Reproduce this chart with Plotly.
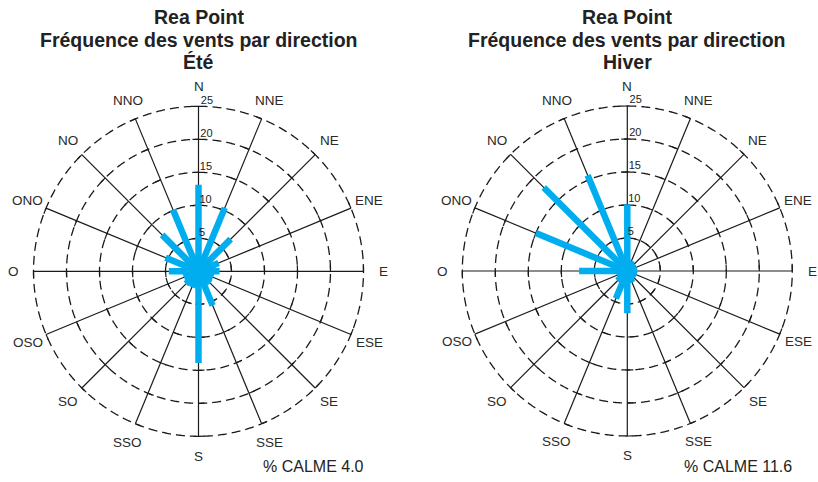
import numpy as np
import plotly.graph_objects as go

# Wind-rose data: frequency (%) per compass direction
DIRECTIONS = ["N", "NNE", "NE", "ENE", "E", "ESE", "SE", "SSE",
              "S", "SSO", "SO", "OSO", "O", "ONO", "NO", "NNO"]
ETE = [13.1, 10.4, 6.9, 3.3, 3.2, 2.4, 2.5, 5.6,
       13.9, 2.6, 2.7, 2.4, 4.5, 5.4, 7.8, 10.1]
HIVER = [10.1, 1.7, 1.5, 1.5, 1.4, 1.5, 1.5, 1.9,
         6.4, 4.5, 2.1, 1.7, 7.3, 15.0, 17.9, 15.7]
CALME = [4.0, 11.6]
SAISONS = ["Été", "Hiver"]
STATION = "Rea Point"
SOUS_TITRE = "Fréquence des vents par direction"
RINGS = [5, 10, 15, 20, 25]

W, H = 818, 482
R_PX = 165.0            # pixel radius of the 25 % ring
R_MAX = 25.6            # radial range a little past the outer ring so it is not clipped
LABEL_R = 28.0          # direction labels sit just outside the outer ring
CENTERS = [(198.5, 271.3), (627.3, 271.0)]
TITLE_ROWS_Y = [17, 40, 62]
BAR_COLOR = "#00AEEF"
LINE_COLOR = "#1a1a1a"
FONT = "Liberation Sans, Arial, sans-serif"

angles = [i * 22.5 for i in range(len(DIRECTIONS))]
px_per_unit = R_PX / RINGS[-1]

fig = go.Figure()


def add_rose(values, polar_id):
    sub = "polar" if polar_id == 1 else f"polar{polar_id}"

    # dashed rings
    th = np.linspace(0, 360, 721)
    for rv in RINGS:
        fig.add_trace(go.Scatterpolar(
            r=[rv] * len(th), theta=th, mode="lines", subplot=sub,
            line=dict(color=LINE_COLOR, width=1.3, dash="9px,5px"),
            hoverinfo="skip"))

    # spokes from centre to the outer ring
    sr, st = [], []
    for a in angles:
        sr += [0, RINGS[-1], None]
        st += [a, a, None]
    fig.add_trace(go.Scatterpolar(
        r=sr, theta=st, mode="lines", subplot=sub,
        line=dict(color=LINE_COLOR, width=1.2), hoverinfo="skip"))

    # small tick marks where each spoke crosses a ring
    tick_px = 6.0
    tr, tt = [], []
    for a in angles:
        for rv in RINGS:
            d = np.degrees(tick_px / (rv * px_per_unit))
            tr += [rv, rv, None]
            tt += [a, a - d, None]
    fig.add_trace(go.Scatterpolar(
        r=tr, theta=tt, mode="lines", subplot=sub,
        line=dict(color=LINE_COLOR, width=1.2), hoverinfo="skip"))

    # frequency bars
    br, bt = [], []
    for a, v in zip(angles, values):
        br += [0, v, None]
        bt += [a, a, None]
    fig.add_trace(go.Scatterpolar(
        r=br, theta=bt, mode="lines", subplot=sub,
        line=dict(color=BAR_COLOR, width=6.5), hoverinfo="skip"))

    # ring value labels along the north spoke
    fig.add_trace(go.Scatterpolar(
        r=RINGS, theta=[0.8] * len(RINGS), mode="text", subplot=sub,
        text=[str(v) for v in RINGS], textposition="top right",
        textfont=dict(family=FONT, size=11, color="#222222"),
        cliponaxis=False, hoverinfo="skip"))


add_rose(ETE, 1)
add_rose(HIVER, 2)


def polar_layout(cx, cy):
    rd = R_MAX * px_per_unit
    x0, x1 = (cx - rd) / W, (cx + rd) / W
    y0, y1 = (H - (cy + rd)) / H, (H - (cy - rd)) / H
    return dict(
        domain=dict(x=[max(x0, 0), min(x1, 1)], y=[y0, y1]),
        bgcolor="rgba(0,0,0,0)",
        radialaxis=dict(range=[0, R_MAX], visible=False),
        angularaxis=dict(direction="clockwise", rotation=90, visible=False),
    )


annotations = []
for (cx, cy), saison, calme in zip(CENTERS, SAISONS, CALME):
    # three-line bold title, one row per annotation for tight spacing
    for row_text, row_y in zip([STATION, SOUS_TITRE, saison], TITLE_ROWS_Y):
        annotations.append(dict(
            x=cx / W, y=1 - row_y / H, xref="paper", yref="paper",
            xanchor="center", yanchor="middle", showarrow=False,
            text=f"<b>{row_text}</b>",
            font=dict(family=FONT, size=19.5, color="#222222")))
    annotations.append(dict(
        x=(cx + R_PX + 2) / W, y=1 - 466 / H, xref="paper", yref="paper",
        xanchor="right", yanchor="middle", showarrow=False,
        text=f"% CALME {calme:.1f}",
        font=dict(family=FONT, size=16, color="#222222")))
    # compass direction labels around the rose
    for a, name in zip(angles, DIRECTIONS):
        rad = np.radians(a)
        lx = cx + LABEL_R * px_per_unit * np.sin(rad)
        ly = cy - LABEL_R * px_per_unit * np.cos(rad)
        annotations.append(dict(
            x=lx / W, y=1 - ly / H, xref="paper", yref="paper",
            xanchor="center", yanchor="middle", showarrow=False,
            text=name, font=dict(family=FONT, size=13.5, color="#2a2a2a")))

fig.update_layout(
    width=W, height=H,
    margin=dict(l=0, r=0, t=0, b=0),
    paper_bgcolor="white", plot_bgcolor="white",
    showlegend=False,
    polar=polar_layout(*CENTERS[0]),
    polar2=polar_layout(*CENTERS[1]),
    annotations=annotations,
)

fig.write_html("out.html")
